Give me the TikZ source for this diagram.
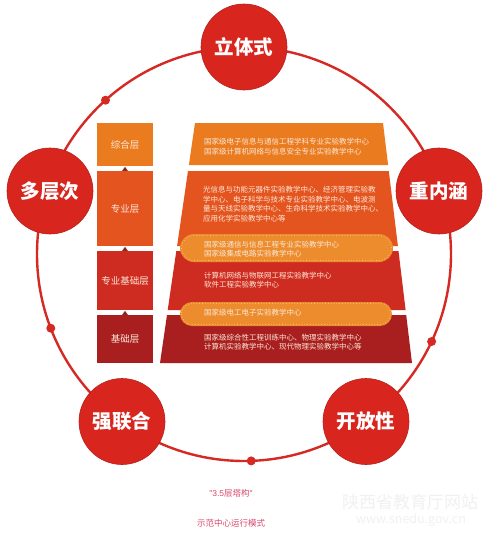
\documentclass[tikz,border=0pt]{standalone}
\usepackage{fontspec}
\setmainfont{Noto Sans CJK SC}
\newfontfamily\latinsans{Liberation Sans}
\usetikzlibrary{arrows.meta}
\definecolor{ringred}{HTML}{D42A23}
\definecolor{nodered}{HTML}{D8261F}
\definecolor{lay1}{HTML}{EA7B1F}
\definecolor{lay2}{HTML}{E4541F}
\definecolor{lay3}{HTML}{CF2C21}
\definecolor{lay4}{HTML}{A91F1F}
\definecolor{pillc}{HTML}{EC8C2C}
\definecolor{pillb}{HTML}{F6BE78}
\definecolor{txtc}{HTML}{FBE8D8}
\definecolor{capc}{HTML}{D8466A}
\definecolor{wmc}{HTML}{F1F1F1}
\definecolor{tipc}{HTML}{8E2619}
\begin{document}
\begin{tikzpicture}[x=1pt,y=-1pt,
  bignode/.style={circle, fill=nodered, draw=nodered!85!black, line width=0.6pt,
    minimum size=86pt, inner sep=0pt, text=white,
    font=\fontsize{19.5}{20}\selectfont\bfseries},
  ringline/.style={draw=ringred, line width=2.4pt},
  ringdot/.style={fill=ringred},
  laybox/.style={minimum width=56pt, inner sep=0pt, text=txtc,
    font=\fontsize{9.5}{10}\selectfont},
  bandtxt/.style={anchor=west, inner sep=0pt, align=left, text=txtc,
    font=\fontsize{7.5}{9.5}\selectfont},
  uptip/.style={draw=none, fill=tipc},
  captxt/.style={inner sep=0pt, text=capc, font=\fontsize{8.5}{9}\selectfont},
  wmtxt/.style={inner sep=0pt, text=wmc}
]
\fill[white] (0,0) rectangle (489,536);
\useasboundingbox (0,0) rectangle (489,536);

% ring and dots
\draw[ringline] (244,254) circle[radius=207];
\fill[ringdot] (105.5,100.2) circle[radius=4.5];
\fill[ringdot] (50.8,328.2) circle[radius=4.5];
\fill[ringdot] (251.2,460.9) circle[radius=4.5];
\fill[ringdot] (431.6,341.5) circle[radius=4.5];

% circle nodes
\node[bignode] (n1) at (244,47) {立体式};
\node[bignode] (n2) at (50,191) {多层次};
\node[bignode] (n3) at (439,191) {重内涵};
\node[bignode] (n4) at (122,421.5) {强联合};
\node[bignode] (n5) at (366,421.5) {开放性};

% left column
\node[laybox, fill=lay1, minimum height=43pt] (b1) at (125,144.5) {综合层};
\node[laybox, fill=lay2, minimum height=75pt] (b2) at (125,208.5) {专业层};
\node[laybox, fill=lay3, minimum height=59pt] (b3) at (125,280.5) {专业基础层};
\node[laybox, fill=lay4, minimum height=48pt] (b4) at (125,339) {基础层};
\fill[uptip] (b2.north) ++(-2.8,0) -- ++(2.8,-4) -- ++(2.8,4) -- cycle;
\fill[uptip] (b3.north) ++(-2.8,0) -- ++(2.8,-4) -- ++(2.8,4) -- cycle;
\fill[uptip] (b4.north) ++(-2.8,0) -- ++(2.8,-4) -- ++(2.8,4) -- cycle;

% pyramid bands
\fill[lay1] (195,123) -- (383,123) -- (388.1,165) -- (188.9,165) -- cycle;
\fill[lay2] (188.0,171) -- (388.8,171) -- (397.9,246) -- (177.1,246) -- cycle;
\fill[lay3] (176.3,251) -- (398.5,251) -- (405.6,310) -- (167.7,310) -- cycle;
\fill[lay4] (167.0,315) -- (406.2,315) -- (412,363) -- (160,363) -- cycle;

% pills
\fill[pillc, rounded corners=14pt] (180,234) rectangle (393,262);
\draw[pillb, dotted, line width=0.8pt, rounded corners=12.5pt] (181.5,235.5) rectangle (391.5,260.5);
\fill[pillc, rounded corners=12pt] (180,302) rectangle (392,326);
\draw[pillb, dotted, line width=0.8pt, rounded corners=10.5pt] (181.5,303.5) rectangle (390.5,324.5);

% band texts
\node[bandtxt] (t1) at (204,146.5) {国家级电子信息与通信工程学科专业实验教学中心\\国家级计算机网络与信息安全专业实验教学中心};
\node[bandtxt] (t2) at (203,204) {光信息与功能元器件实验教学中心、经济管理实验教\\学中心、电子科学与技术专业实验教学中心、电波测\\量与天线实验教学中心、生命科学技术实验教学中心、\\应用化学实验教学中心等};
\node[bandtxt] (t3) at (204,249) {国家级通信与信息工程专业实验教学中心\\国家级集成电路实验教学中心};
\node[bandtxt] (t4) at (204,280) {计算机网络与物联网工程实验教学中心\\软件工程实验教学中心};
\node[bandtxt] (t5) at (204,312.5) {国家级电工电子实验教学中心};
\node[bandtxt] (t6) at (204,342) {国家级综合性工程训练中心、物理实验教学中心\\计算机实验教学中心、现代物理实验教学中心等};

% captions
\node[captxt] (c1) at (231,493) {{\latinsans "3.5}层塔构{\latinsans "}};
\node[captxt] (c2) at (231,523) {示范中心运行模式};

% watermark
\node[wmtxt, font=\fontsize{17}{18}\selectfont] (w1) at (410,502) {陕西省教育厅网站};
\node[wmtxt, font=\fontsize{12.5}{13}\selectfont] (w2) at (411,520) {www.snedu.gov.cn};
\end{tikzpicture}
\end{document}
